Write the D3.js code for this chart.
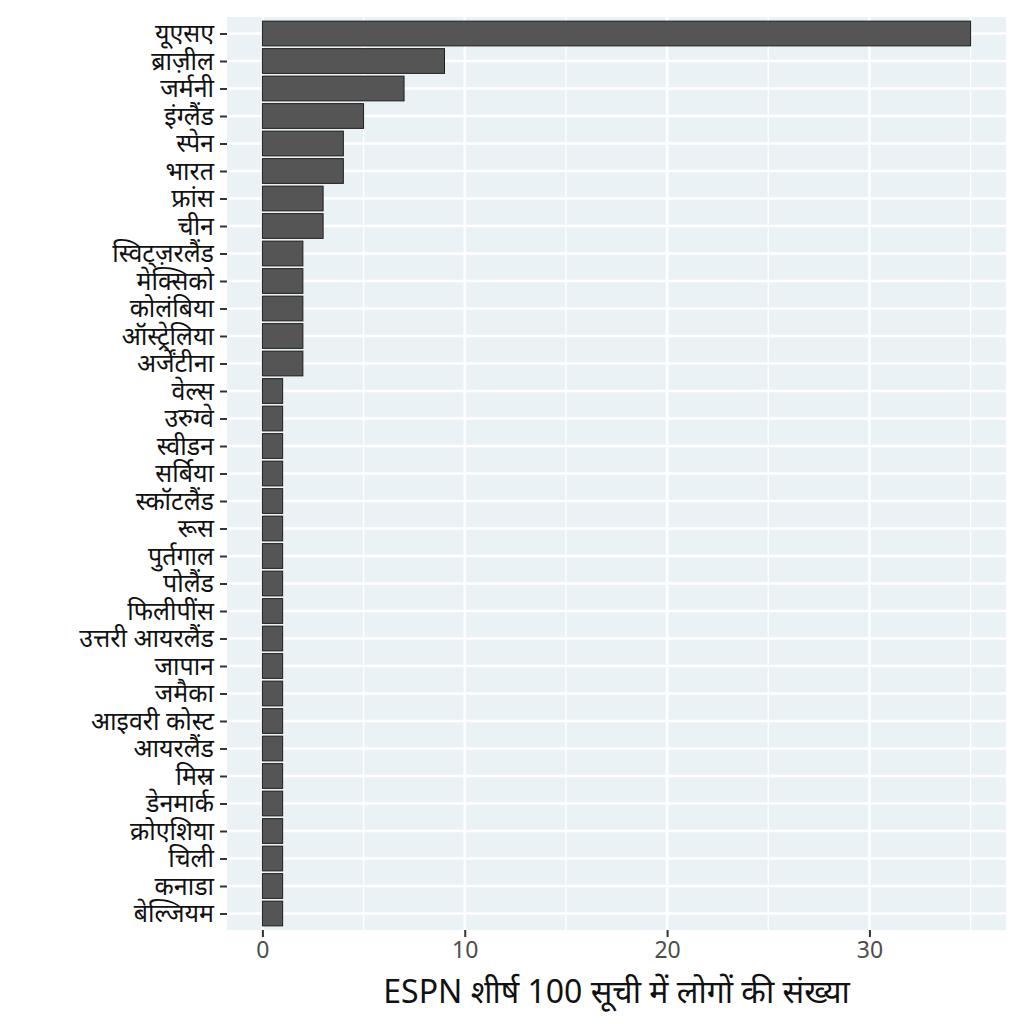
<!DOCTYPE html>
<html lang="hi">
<head>
<meta charset="utf-8">
<title>ESPN शीर्ष 100</title>
<script src="https://cdn.jsdelivr.net/npm/d3@7"></script>
<style>
  body { margin: 0; background: #fff; }
  text { font-family: "Noto Sans", "Noto Sans Devanagari", sans-serif; }
</style>
</head>
<body>
<script>
// देश और ESPN शीर्ष 100 में लोगों की संख्या (ऊपर से नीचे)
const countries = ["यूएसए", "ब्राज़ील", "जर्मनी", "इंग्लैंड", "स्पेन", "भारत", "फ्रांस", "चीन",
  "स्विट्ज़रलैंड", "मेक्सिको", "कोलंबिया", "ऑस्ट्रेलिया", "अर्जेंटीना", "वेल्स", "उरुग्वे",
  "स्वीडन", "सर्बिया", "स्कॉटलैंड", "रूस", "पुर्तगाल", "पोलैंड", "फिलीपींस", "उत्तरी आयरलैंड",
  "जापान", "जमैका", "आइवरी कोस्ट", "आयरलैंड", "मिस्र", "डेनमार्क", "क्रोएशिया", "चिली",
  "कनाडा", "बेल्जियम"]
const counts = [35, 9, 7, 5, 4, 4, 3, 3, 2, 2, 2, 2, 2, 1, 1, 1, 1, 1, 1, 1, 1, 1, 1,
  1, 1, 1, 1, 1, 1, 1, 1, 1, 1]
const xTicks = [0, 10, 20, 30]
const xMinor = [5, 15, 25, 35]
const xTitle = "ESPN शीर्ष 100 सूची में लोगों की संख्या"

const w = 1024, h = 1024
const pLeft = 227, pRight = 1006, pTop = 17, pBottom = 930

const svg = d3.select("body").append("svg")
  .attr("width", w).attr("height", h)

const maxVal = d3.max(counts)
const pad = maxVal * 0.05
const x = d3.scaleLinear().domain([-pad, maxVal + pad]).range([pLeft, pRight])

// category centres, ggplot-style 0.6 expansion on each end
const y = d3.scalePoint().domain(countries).range([pTop, pBottom]).padding(0.6)
const barH = y.step() * 0.9

svg.append("rect")
  .attr("x", pLeft).attr("y", pTop)
  .attr("width", pRight - pLeft).attr("height", pBottom - pTop)
  .attr("fill", "#EBF2F6")

// minor vertical grid
svg.selectAll(".vminor").data(xMinor).enter().append("line")
  .attr("x1", d => x(d)).attr("x2", d => x(d))
  .attr("y1", pTop).attr("y2", pBottom)
  .attr("stroke", "#fff").attr("stroke-width", 1.3)

// major vertical grid
svg.selectAll(".vmajor").data(xTicks).enter().append("line")
  .attr("x1", d => x(d)).attr("x2", d => x(d))
  .attr("y1", pTop).attr("y2", pBottom)
  .attr("stroke", "#fff").attr("stroke-width", 2.6)

// horizontal grid per category
svg.selectAll(".hgrid").data(countries).enter().append("line")
  .attr("x1", pLeft).attr("x2", pRight)
  .attr("y1", d => y(d)).attr("y2", d => y(d))
  .attr("stroke", "#fff").attr("stroke-width", 2.6)

svg.selectAll(".bar").data(countries).enter().append("rect")
  .attr("x", x(0))
  .attr("y", d => y(d) - barH / 2)
  .attr("width", (d, i) => x(counts[i]) - x(0))
  .attr("height", barH)
  .attr("fill", "#555555")
  .attr("stroke", "#1e1e1e")
  .attr("stroke-width", 1)

// y axis
const yAxis = svg.append("g").attr("transform", `translate(${pLeft},0)`)
  .call(d3.axisLeft(y).tickSize(7).tickPadding(6))
yAxis.select(".domain").remove()
yAxis.selectAll(".tick line").attr("stroke", "#333").attr("stroke-width", 2)
yAxis.selectAll(".tick text")
  .attr("fill", "#111").attr("font-size", "25px")
  .attr("font-family", "'Noto Sans', sans-serif")

// x axis
const xAxis = svg.append("g").attr("transform", `translate(0,${pBottom})`)
  .call(d3.axisBottom(x).tickValues(xTicks).tickSize(7).tickPadding(5))
xAxis.select(".domain").remove()
xAxis.selectAll(".tick line").attr("stroke", "#333").attr("stroke-width", 2)
xAxis.selectAll(".tick text")
  .attr("fill", "#4D4D4D").attr("font-size", "23px")
  .attr("font-family", "'Noto Sans', sans-serif")

svg.append("text")
  .attr("x", (pLeft + pRight) / 2).attr("y", 1003)
  .attr("text-anchor", "middle")
  .attr("font-size", "32px").attr("fill", "#111")
  .text(xTitle)
</script>
</body>
</html>
